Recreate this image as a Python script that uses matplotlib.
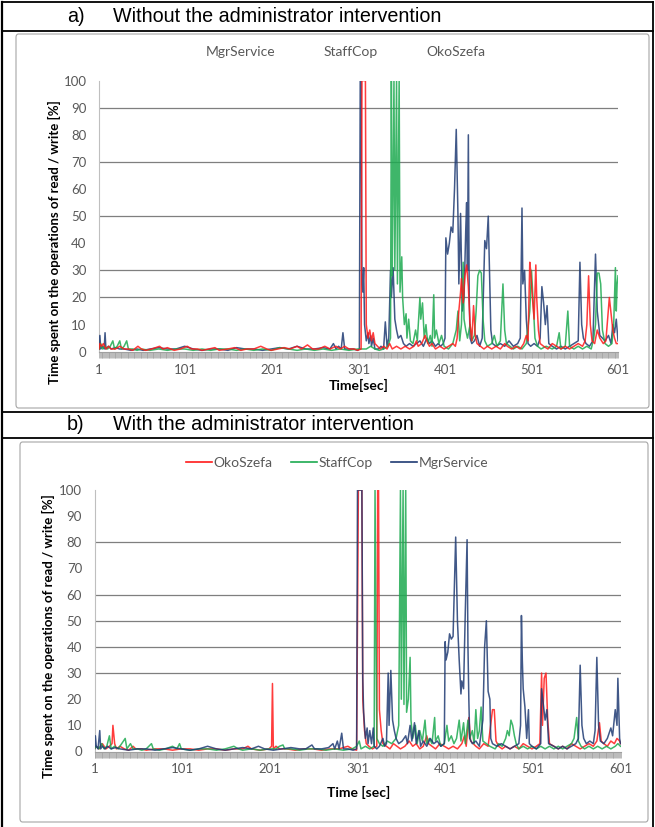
import matplotlib.pyplot as plt
from matplotlib.lines import Line2D
from matplotlib.patches import FancyBboxPatch

# ---- data: (time [s], % of time on read/write) ----
a_mgr = [(1,1),(2,6),(3,1),(5,2),(7,1),(8,7),(9,1),(12,2),(15,1),(20,1.5),(25,1),(30,1),(38,0.5),(45,1),
         (52,0.5),(60,1),(70,1.5),(80,1),(90,1),(100,2),(110,1),(120,0.5),(130,1),(140,1),(150,0.5),(160,1.5),
         (170,1),(180,1),(190,0.5),(200,1),(210,1.5),(220,1),(230,2),(240,1),(250,1),(260,1.5),(268,1),(272,3),
         (275,1),(278,2),(281,1),(283,7),(285,1),(290,1),(295,1),(300,0.5),(302,1),(303,100),(304,100),(305,25),
         (306,22),(307,31),(308,10),(310,4),(312,7),(313,3),(315,6),(316,2),(318,5),(320,1),(324,1),(327,2),
         (330,1),(332,11),(334,2),(336,5),(338,30),(339,20),(341,31),(343,12),(345,8),(347,5),(350,6),(353,3),
         (356,2),(360,3),(364,2),(368,3),(372,4),(376,2),(380,5),(383,3),(386,4),(390,2),(393,3),(396,2),(399,3),
         (401,5),(402,42),(404,36),(406,40),(408,46),(410,44),(412,60),(414,82),(416,50),(417,25),(419,51),
         (421,15),(423,20),(425,45),(426,55),(427,30),(428,80),(429,20),(430,5),(432,3),(435,4),(438,6),(441,2),
         (444,5),(446,30),(447,41),(449,38),(451,50),(453,22),(454,8),(456,3),(460,2),(465,3),(470,2),(475,4),
         (480,2),(485,3),(488,5),(490,53),(491,25),(493,30),(495,12),(497,3),(500,2),(504,3),(508,2),(511,5),
         (513,24),(515,18),(517,10),(519,17),(521,3),(525,2),(530,1),(535,2),(540,1),(545,2),(550,3),(555,4),
         (557,33),(559,10),(561,5),(564,3),(568,2),(572,4),(575,36),(577,15),(580,6),(583,5),(586,4),(590,6),
         (593,3),(595,10),(597,7),(599,12),(601,4)]
a_staff = [(1,1),(3,3),(5,1),(8,2),(11,1),(14,2),(17,4),(19,1),(22,2),(25,4),(27,1),(30,2),(33,4),(35,1),
           (40,1),(45,0.5),(50,1),(60,0.5),(70,1),(80,0.5),(90,1),(100,1),(110,0.5),(120,1),(130,0.5),(140,1),
           (150,1),(160,0.5),(170,1),(180,0.5),(190,1),(200,0.5),(210,1.5),(220,1),(230,0.5),(240,1),(250,0.5),
           (260,1),(270,0.5),(280,1),(290,0.5),(300,1),(310,1),(315,2),(320,1),(325,0.5),(330,1),(335,2),(338,5),
           (339,100),(340,28),(342,100),(343,30),(345,100),(346,25),(348,100),(349,22),(351,35),(352,20),(354,10),
           (356,14),(357,5),(359,12),(361,4),(364,3),(367,8),(369,4),(372,20),(373,12),(375,18),(377,5),(379,10),
           (381,3),(384,6),(386,2),(388,21),(389,5),(391,8),(394,3),(397,6),(400,2),(405,1),(410,3),(414,8),
           (416,15),(418,4),(420,10),(422,33),(423,12),(425,8),(427,5),(430,10),(432,4),(435,6),(437,15),(439,28),
           (441,30),(443,29),(445,12),(447,4),(450,2),(455,3),(458,6),(461,2),(465,4),(468,25),(470,8),(472,3),
           (476,2),(480,1),(485,2),(490,1),(495,3),(499,15),(501,30),(503,18),(505,5),(508,2),(512,1),(518,2),
           (525,1),(530,2),(533,7),(535,1),(540,2),(543,15),(545,2),(550,1),(555,2),(560,1),(565,2),(570,1),
           (573,5),(575,10),(577,29),(579,29),(581,25),(583,8),(586,3),(590,2),(594,3),(596,10),(598,31),(599,15),
           (600,25),(601,28)]
a_oko = [(1,1),(2,3),(4,2),(6,3),(9,1),(12,2),(15,1),(20,1),(25,2),(30,1),(35,1),(40,0.5),(46,2),(50,1),
         (55,0.5),(62,1),(71,2),(75,1),(80,1.5),(88,0.5),(95,1),(103,2),(108,1),(115,1),(120,0.5),(128,1),
         (135,1.5),(140,0.5),(150,1),(158,1.5),(165,0.5),(172,1),(180,1),(188,2),(195,1),(200,0.5),(208,1),
         (215,1.5),(222,1),(230,2),(235,1),(242,2.5),(248,1),(255,1),(262,2),(268,1),(275,2),(280,1),(285,2),
         (290,1),(296,1),(300,0.5),(304,1),(305,100),(309,100),(310,10),(312,5),(314,8),(316,4),(318,7),(320,3),
         (323,2),(326,1),(330,2),(334,1),(337,3),(340,1),(345,2),(350,1),(355,2),(360,1),(365,2),(368,4),(370,2),
         (374,3),(378,6),(380,4),(383,2),(386,3),(390,1),(395,2),(400,1),(405,2),(410,3),(413,2),(415,5),(417,15),
         (419,22),(420,27),(422,18),(424,28),(426,32),(428,24),(430,10),(432,4),(434,17),(436,6),(438,3),(442,2),
         (446,1),(450,2),(455,1),(460,2),(465,1),(470,3),(473,2),(478,1),(483,2),(488,1),(492,3),(495,6),(497,4),
         (499,33),(500,30),(502,20),(504,12),(506,32),(507,20),(509,8),(511,3),(515,2),(520,1),(525,3),(530,2),
         (535,1),(540,2),(545,1),(550,2),(555,3),(560,2),(563,4),(565,10),(567,28),(569,10),(571,4),(574,3),
         (577,8),(580,5),(584,3),(587,4),(589,12),(591,20),(593,14),(595,8),(597,5),(599,3),(601,3)]

b_oko = [(1,1),(3,2),(6,1),(10,3),(14,1),(18,2),(21,3),(22,10),(24,3),(26,1),(30,2),(35,1),(40,0.5),(45,2),
         (48,1),(55,1),(60,0.5),(70,1),(80,1),(90,0.5),(100,1),(110,1),(120,0.5),(130,1),(140,1),(150,0.5),
         (160,1),(170,1),(176,2),(180,1),(190,0.5),(200,1),(203,2),(204,26),(205,1),(208,2),(212,1),(220,1),
         (230,0.5),(240,1),(250,1),(260,0.5),(270,1),(280,1),(290,2),(295,1),(300,0.5),(302,100),(306,100),
         (307,20),(309,8),(311,3),(314,2),(318,1),(323,2),(324,100),(325,100),(326,16),(328,8),(330,3),(334,2),
         (338,1),(342,3),(346,2),(350,1),(355,2),(360,4),(364,2),(368,3),(372,1),(376,2),(380,6),(382,3),(386,2),
         (390,1),(395,3),(400,2),(405,1),(410,2),(415,1),(420,3),(423,6),(425,2),(428,13),(430,4),(433,3),(436,2),
         (440,1),(445,3),(450,2),(455,16),(457,16),(459,4),(462,2),(466,1),(470,2),(475,1),(480,2),(485,1),
         (490,3),(495,2),(500,1),(505,2),(509,3),(511,30),(512,10),(514,28),(516,30),(518,12),(520,3),(525,2),
         (530,1),(535,2),(540,1),(545,3),(550,2),(555,1),(560,2),(565,3),(570,2),(574,4),(577,11),(579,4),
         (582,3),(586,2),(590,4),(594,3),(597,5),(600,4),(601,3)]
b_staff = [(1,1),(3,2),(6,1),(9,3),(12,1),(15,2),(18,6),(20,1),(24,2),(28,1),(32,3),(36,5),(38,1),(42,3),
           (45,1),(50,1),(55,0.5),(60,1),(66,3),(68,1),(75,0.5),(82,1),(90,2),(95,1),(98,3),(100,1),(110,0.5),
           (120,1),(130,1),(140,0.5),(150,1),(160,2),(165,1),(170,0.5),(180,1),(190,0.5),(200,1),(208,1),(212,2),
           (216,2.5),(218,1),(225,1),(235,0.5),(245,1),(255,1),(265,0.5),(275,1),(285,0.5),(295,1),(300,2),
           (303,4),(305,1),(310,2),(315,1),(320,2),(321,100),(323,5),(326,3),(330,2),(335,4),(340,3),(345,5),
           (348,10),(350,100),(351,20),(353,100),(354,18),(356,100),(357,15),(359,20),(361,36),(362,12),(364,5),
           (367,10),(369,3),(372,8),(375,4),(378,12),(380,3),(383,5),(386,3),(389,13),(390,4),(393,6),(396,2),
           (400,3),(403,10),(405,4),(408,6),(411,3),(414,5),(417,12),(419,4),(422,11),(424,3),(427,12),(429,5),
           (432,8),(434,3),(436,16),(438,5),(440,8),(442,17),(444,4),(448,3),(452,2),(458,1),(462,3),(466,2),
           (470,5),(472,8),(474,6),(476,12),(478,10),(480,6),(482,3),(485,1),(490,2),(495,1),(500,2),(505,1),
           (510,2),(515,1),(520,2),(525,1),(530,2),(535,1),(540,2),(545,3),(548,5),(551,13),(553,4),(556,2),
           (560,1),(565,2),(570,1),(575,2),(580,1),(585,2),(590,1),(595,2),(598,3),(601,2)]
b_mgr = [(1,1),(2,6),(3,2),(5,1),(7,8),(8,1),(10,2),(13,1),(16,2),(20,1),(25,1.5),(30,1),(40,0.5),(50,1),
         (60,1),(70,0.5),(80,1),(90,1.5),(100,1),(110,0.5),(120,1),(130,2),(140,1),(150,0.5),(160,1),(170,1.5),
         (180,1),(188,2),(195,1),(205,0.5),(215,1),(225,1.5),(235,1),(242,1),(249,2.5),(252,1),(260,1),(268,1.5),
         (273,3),(275,1),(278,4),(280,1),(283,7),(285,1),(290,1),(296,0.5),(300,1),(301,100),(306,100),(307,28),
         (308,15),(310,5),(312,9),(313,3),(315,8),(317,3),(319,9),(320,2),(323,1),(326,2),(330,5),(332,2),(334,3),
         (336,30),(337,10),(339,31),(341,12),(343,8),(345,5),(348,3),(352,4),(356,6),(358,3),(361,10),(363,4),
         (366,11),(368,3),(371,8),(373,2),(376,4),(380,2),(384,5),(388,3),(392,4),(396,2),(400,3),(401,42),
         (402,35),(404,38),(406,45),(408,43),(410,44),(412,70),(413,82),(415,50),(417,35),(419,22),(420,27),
         (422,24),(424,54),(426,81),(427,40),(428,20),(429,5),(432,3),(436,4),(440,2),(444,12),(446,40),(448,50),
         (450,23),(452,20),(453,5),(455,3),(460,2),(465,3),(470,2),(475,1),(480,2),(485,3),(487,10),(488,52),
         (489,35),(490,24),(492,17),(494,5),(496,16),(497,3),(500,2),(505,1),(510,3),(511,24),(513,18),(515,12),
         (517,16),(519,3),(525,2),(530,1),(535,2),(540,1),(545,2),(550,3),(553,5),(555,33),(557,10),(559,5),
         (562,3),(566,4),(570,3),(572,8),(574,36),(576,10),(578,4),(582,3),(586,5),(590,9),(592,6),(595,16),
         (597,10),(598,28),(600,5),(601,3)]

names_a = ["MgrService", "StaffCop", "OkoSzefa"]
names_b = ["OkoSzefa", "StaffCop", "MgrService"]
grid_a = [20, 30, 50, 70, 90]
grid_b = [30, 40, 50, 60, 80]
x_ticks = [1, 101, 201, 301, 401, 501, 601]
y_ticks = list(range(0, 101, 10))
ylabel = "Time spent on the operations of read / write [%]"

colors = {"MgrService": "#1F3B73", "StaffCop": "#1DAA50", "OkoSzefa": "#FF1A1A"}
gray_txt = "#595959"
cfont = "Lato"

W, H = 655, 827
fig = plt.figure(figsize=(W / 100, H / 100), dpi=100)


def fx(x):
    return x / W


def fy(y):
    return 1 - y / H


def fline(xs, ys, **kw):
    fig.add_artist(Line2D([fx(v) for v in xs], [fy(v) for v in ys], transform=fig.transFigure, **kw))


# table frame
for y in [2, 31, 412, 438]:
    fline([2, 653], [y, y], color="black", lw=1.3)
fline([2, 2], [2, 827], color="black", lw=1.6)
fline([653, 653], [2, 827], color="black", lw=1.3)

hfont = dict(fontsize=14.2, family="Liberation Sans", va="center")
fig.text(fx(67), fy(17), "a)", **hfont)
fig.text(fx(113), fy(17), "Without the administrator intervention", **hfont)
fig.text(fx(67), fy(425), "b)", **hfont)
fig.text(fx(113), fy(425), "With the administrator intervention", **hfont)

# chart frames
for (x0, y0, x1, y1) in [(16, 34, 649, 408), (20, 442, 648, 822)]:
    fig.add_artist(FancyBboxPatch((fx(x0), fy(y1)), fx(x1 - x0), (y1 - y0) / H,
                                  boxstyle="round,pad=0,rounding_size=0.004",
                                  transform=fig.transFigure, fc="white", ec="#A6A6A6", lw=0.8, zorder=-1))


def panel(left, right, y0, y100, series, names, grid, xlabel, ylab_x, ylab_y, xlab_y):
    ax = fig.add_axes([fx(left), fy(y0), fx(right - left), (y0 - y100) / H])
    for gv in grid:
        ax.axhline(gv, color="#7F7F7F", lw=0.9, zorder=1)
    for data, name in zip(series, names):
        t = [p[0] for p in data]
        v = [p[1] for p in data]
        ax.plot(t, v, color=colors[name], lw=1.1, alpha=0.85, zorder=3, label=name)
    ax.set_xlim(1, 601)
    ax.set_ylim(0, 100)
    ax.set_xticks(x_ticks)
    ax.set_xticks(range(1, 602), minor=True)
    ax.set_yticks(y_ticks)
    ax.tick_params(axis="x", which="both", length=4.5, width=0.5, color="#A0A0A0",
                   labelsize=9.5, labelcolor=gray_txt, pad=4)
    ax.tick_params(axis="y", length=0, labelsize=9.5, labelcolor=gray_txt, pad=9)
    for lab in ax.get_xticklabels() + ax.get_yticklabels():
        lab.set_family(cfont)
    for s in ["top", "right"]:
        ax.spines[s].set_visible(False)
    ax.spines["left"].set_color("#BFBFBF")
    ax.spines["bottom"].set_color("#A0A0A0")
    ax.spines["left"].set_linewidth(0.8)
    ax.patch.set_alpha(0)
    fig.text(fx(ylab_x), fy(ylab_y), ylabel, rotation=90, ha="center", va="center",
             fontsize=9.5, fontweight="bold", family=cfont)
    fig.text(fx(359), fy(xlab_y), xlabel, ha="center", va="center",
             fontsize=10, fontweight="bold", family=cfont)
    return ax


ax_a = panel(99, 618, 351.7, 80.6, [a_mgr, a_staff, a_oko], names_a, grid_a, "Time[sec]", 54, 242, 385)
for name, xc in zip(names_a, [241, 351, 456]):
    fig.text(fx(xc), fy(52), name, ha="center", va="center", fontsize=10, color=gray_txt, family=cfont)

ax_b = panel(94.5, 620.5, 751.5, 490, [b_oko, b_staff, b_mgr], names_b, grid_b, "Time [sec]", 48, 636, 792)
leg = ax_b.legend(loc="center", bbox_to_anchor=(fx(337), fy(463)), bbox_transform=fig.transFigure,
                  ncol=3, frameon=False, handlelength=1.9, handletextpad=0.1, columnspacing=1.3,
                  prop={"family": cfont, "size": 10})
for txt in leg.get_texts():
    txt.set_color(gray_txt)
for ln in leg.get_lines():
    ln.set_alpha(1)
    ln.set_linewidth(1.2)

fig.savefig("out.png", dpi=100)
